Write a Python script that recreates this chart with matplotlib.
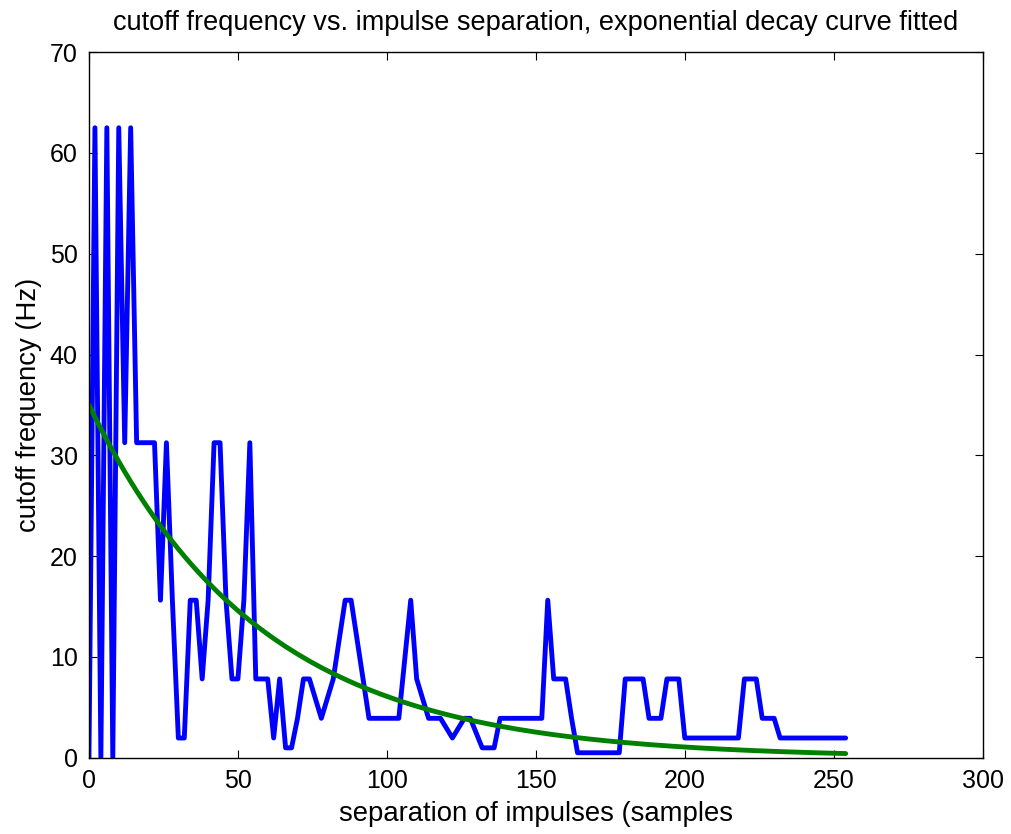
import numpy as np
import matplotlib
matplotlib.use("Agg")
import matplotlib.pyplot as plt

plt.rcParams['font.family'] = ['Liberation Sans', 'DejaVu Sans']

# separation between impulses (samples)
separation = list(range(0, 256, 2))

# cutoff frequency measured at each separation (Hz)
cutoff = [
    0, 62.5, 0, 62.5, 0, 62.5, 31.25, 62.5, 31.25, 31.25,          # 0..18
    31.25, 31.25, 15.625, 31.25, 15.625, 1.953, 1.953, 15.625, 15.625, 7.8125,  # 20..38
    15.625, 31.25, 31.25, 15.625, 7.8125, 7.8125, 15.625, 31.25, 7.8125, 7.8125,  # 40..58
    7.8125, 1.953, 7.8125, 0.977, 0.977, 3.906, 7.8125, 7.8125, 5.86, 3.906,    # 60..78
    5.86, 7.8125, 11.72, 15.625, 15.625, 11.72, 7.8125, 3.906, 3.906, 3.906,    # 80..98
    3.906, 3.906, 3.906, 9.77, 15.625, 7.8125, 5.86, 3.906, 3.906, 3.906,       # 100..118
    2.93, 1.953, 2.93, 3.906, 3.906, 2.44, 0.977, 0.977, 0.977, 3.906,          # 120..138
    3.906, 3.906, 3.906, 3.906, 3.906, 3.906, 3.906, 15.625, 7.8125, 7.8125,    # 140..158
    7.8125, 3.906, 0.488, 0.488, 0.488, 0.488, 0.488, 0.488, 0.488, 0.488,      # 160..178
    7.8125, 7.8125, 7.8125, 7.8125, 3.906, 3.906, 3.906, 7.8125, 7.8125, 7.8125,  # 180..198
    1.953, 1.953, 1.953, 1.953, 1.953, 1.953, 1.953, 1.953, 1.953, 1.953,      # 200..218
    7.8125, 7.8125, 7.8125, 3.906, 3.906, 3.906, 1.953, 1.953, 1.953, 1.953,    # 220..238
    1.953, 1.953, 1.953, 1.953, 1.953, 1.953, 1.953, 1.953,                     # 240..254
]

# exponential decay fit: f = a * exp(-b * n)
fit_a = 35.0
fit_b = 0.0175

fig = plt.figure(figsize=(10.11, 8.34), dpi=100)
ax = fig.add_axes([0.088, 0.0915, 0.884, 0.846])

line_kw = dict(linewidth=3.5, solid_joinstyle='round', solid_capstyle='round')
ax.plot(separation, cutoff, color=(0, 0, 1), **line_kw)
n = np.array(separation, dtype=float)
ax.plot(n, fit_a * np.exp(-fit_b * n), color=(0, 0.5, 0), **line_kw)

ax.set_xlim(0, 300)
ax.set_ylim(0, 70)
ax.set_xticks(range(0, 301, 50))
ax.set_yticks(range(0, 71, 10))
ax.tick_params(direction='in', length=6, width=0.8, labelsize=18,
               top=True, right=True, pad=8)
for s in ax.spines.values():
    s.set_linewidth(1.0)

ax.set_title('cutoff frequency vs. impulse separation, exponential decay curve fitted',
             fontsize=19.5, pad=16)
ax.set_xlabel('separation of impulses (samples', fontsize=19.8, labelpad=6)
ax.set_ylabel('cutoff frequency (Hz)', fontsize=19.8, labelpad=6)

fig.savefig('out.png', dpi=100)
